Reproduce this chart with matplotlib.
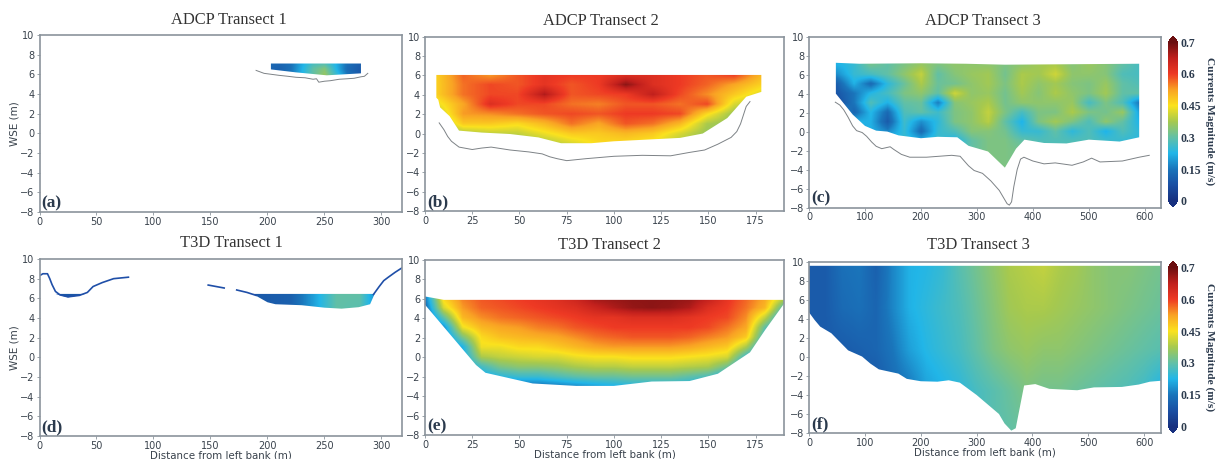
import numpy as np
import matplotlib
matplotlib.use("Agg")
import matplotlib.pyplot as plt
from matplotlib.colors import LinearSegmentedColormap, FuncNorm
from matplotlib.cm import ScalarMappable
from matplotlib.patches import Polygon

W, H = 1220, 459
SERIF = "Liberation Serif"
INK = "#39424c"
NAVY = "#2b3a4d"
SPINE = "#8b949c"

# colour scale: labelled values sit evenly along the bar
cbar_values = [0, 0.15, 0.3, 0.45, 0.6, 0.7]
cbar_labels = ["0", "0.15", "0.3", "0.45", "0.6", "0.7"]
cbar_even = [0, 0.2, 0.4, 0.6, 0.8, 1.0]
cmap_nodes = [(0.00, "#17307f"), (0.10, "#1a4fa3"), (0.20, "#1a75bb"), (0.30, "#22b6e8"),
              (0.40, "#62c0a6"), (0.50, "#a6c94f"), (0.60, "#fbe21e"), (0.70, "#f9a324"),
              (0.80, "#ee3a24"), (0.90, "#c1201d"), (1.00, "#6b0f10")]

# panel (a)
a_x = [200, 210, 220, 230, 240, 250, 260, 270, 280, 290]
a_y = [7.1, 6.5, 5.9]
a_v = [[.13, .12, .14, .21, .27, .28, .22, .14, .11, .11],
       [.12, .11, .14, .22, .30, .34, .23, .13, .10, .10],
       [.12, .12, .15, .22, .30, .36, .26, .15, .10, .10]]
a_water = [[(203, 7.1), (282, 7.1), (282, 6.1), (252, 5.9), (225, 6.2), (203, 6.5)]]
a_bed_x = [190, 197, 210, 218, 225, 233, 240, 243, 245, 250, 255, 263, 270, 276, 282, 285, 288]
a_bed_y = [6.4, 6.1, 5.9, 5.8, 5.7, 5.65, 5.5, 5.55, 5.2, 5.3, 5.35, 5.5, 5.55, 5.6, 5.75, 5.8, 6.1]

# panel (b)
b_x = [6, 20.33, 34.67, 49, 63.33, 77.67, 92, 106.33, 120.67, 135, 149.33, 163.67, 178]
b_y = [6, 5, 4, 3, 2, 1, 0, -1]
b_v = [[.47, .57, .53, .58, .61, .60, .60, .62, .62, .60, .58, .60, .50],
       [.47, .56, .59, .58, .61, .58, .60, .68, .62, .60, .57, .52, .47],
       [.47, .56, .59, .59, .66, .58, .59, .60, .65, .59, .54, .48, .42],
       [.43, .52, .62, .59, .59, .56, .55, .58, .58, .56, .59, .42, .37],
       [.38, .53, .54, .56, .58, .59, .58, .60, .60, .59, .46, .36, .35],
       [.35, .48, .48, .46, .50, .56, .52, .58, .56, .50, .38, .35, .35],
       [.34, .38, .40, .40, .44, .48, .48, .50, .48, .42, .36, .35, .35],
       [.30, .34, .36, .36, .38, .42, .46, .46, .44, .38, .36, .35, .35]]
b_water = [[(6, 6.05), (178, 6.05), (178, 4.3), (170, 3.8), (160, 1.6), (147, 0), (135, -.45),
            (125, -.55), (100, -.8), (88, -1), (72, -1), (60, -.4), (45, -.05), (30, .1),
            (18, .3), (13, 1.8), (8, 2.7), (7, 3.5), (6, 3.7)]]
b_bed_x = [7.5, 10, 12, 14, 18, 25, 30, 35, 45, 55, 62, 66, 70, 75, 85, 100, 115, 130, 140, 148, 155, 158, 162, 165, 167, 170, 172]
b_bed_y = [1.1, .4, -.3, -.8, -1.4, -1.65, -1.5, -1.4, -1.7, -1.9, -2.1, -2.4, -2.6, -2.8, -2.6, -2.35, -2.25, -2.3, -1.95,
           -1.7, -1.1, -.8, -.4, .2, 1, 2.8, 3.3]

# panel (c)
c_x = [50, 80, 110, 140, 170, 200, 230, 260, 290, 320, 350, 380, 410, 440, 470, 500, 530, 560, 590]
c_y = [7, 6, 5, 4, 3, 2, 1, 0, -1, -2, -3, -4]
c_v = [[.22, .25, .32, .30, .33, .36, .33, .35, .35, .35, .33, .35, .37, .38, .34, .36, .34, .30, .27],
       [.18, .25, .27, .30, .35, .40, .30, .34, .36, .37, .32, .38, .37, .41, .35, .35, .34, .28, .27],
       [.11, .22, .13, .24, .31, .38, .31, .32, .35, .37, .33, .38, .35, .37, .34, .33, .36, .30, .28],
       [.09, .15, .23, .27, .33, .35, .30, .41, .35, .36, .32, .37, .34, .38, .35, .33, .37, .30, .30],
       [.07, .15, .28, .22, .30, .31, .16, .34, .36, .38, .32, .35, .35, .35, .36, .27, .33, .28, .15],
       [.22, .12, .23, .13, .28, .30, .26, .33, .35, .40, .33, .27, .33, .33, .38, .33, .32, .36, .20],
       [.22, .22, .22, .10, .26, .18, .24, .33, .35, .39, .30, .22, .33, .37, .33, .28, .35, .30, .22],
       [.20, .20, .22, .17, .25, .13, .25, .28, .34, .34, .32, .25, .25, .30, .24, .28, .22, .28, .24],
       [.20, .20, .22, .24, .25, .22, .26, .22, .30, .33, .33, .30, .28, .28, .28, .28, .26, .25, .24],
       [.20, .20, .22, .24, .25, .25, .26, .26, .30, .33, .33, .32, .28, .28, .28, .28, .26, .25, .24],
       [.20, .20, .22, .24, .25, .25, .26, .26, .30, .33, .33, .32, .28, .28, .28, .28, .26, .25, .24],
       [.20, .20, .22, .24, .25, .25, .26, .26, .30, .33, .33, .32, .28, .28, .28, .28, .26, .25, .24]]
c_water = [[(48, 7.25), (90, 7.15), (200, 7.2), (280, 7.15), (350, 7.05), (590, 7.15), (590, -.6),
            (555, -1.05), (500, -.85), (460, -1.25), (420, -1.2), (385, -.85), (370, -1.8), (350, -3.8),
            (320, -2.1), (285, -1.5), (265, -.6), (230, -.55), (200, -.7), (160, -.4), (140, 0),
            (120, .1), (100, .6), (78, 1.8), (48, 4)]]
c_bed_x = [47, 55, 62, 70, 78, 85, 95, 103, 112, 120, 130, 145, 152, 165, 180, 210, 255, 270, 285, 295, 310, 325, 340, 348, 354,
           358, 362, 366, 372, 378, 384, 400, 420, 440, 470, 490, 505, 520, 560, 590, 608]
c_bed_y = [3.1, 2.8, 2.3, 1.5, .6, .1, -.1, -.5, -1.1, -1.55, -1.8, -1.6, -1.9, -2.4, -2.7, -2.7, -2.5, -2.6, -3.6, -4.1, -4.4,
           -5.2, -6.2, -7, -7.6, -7.75, -7.4, -5.8, -4, -2.9, -2.7, -3.1, -3.4, -3.3, -3.55, -3.2, -2.8, -3.2, -3.1, -2.7, -2.5]

# panel (d)
d_x = [0, 20, 40, 60, 80, 100, 120, 140, 160, 180, 200, 220, 240, 260, 280, 300, 320]
d_y = [6.5, 5]
d_v = [[.09, .09, .09, .09, .09, .09, .09, .09, .09, .09, .10, .11, .20, .30, .30, .12, .10],
       [.09, .09, .09, .09, .09, .09, .09, .09, .09, .09, .10, .11, .20, .30, .29, .14, .10]]
d_bank_x = [0, 3, 7, 9, 11, 14, 18, 25, 35, 42, 47, 55, 65, 78]
d_bank_y = [8.3, 8.5, 8.5, 8, 7.4, 6.7, 6.35, 6.15, 6.3, 6.6, 7.2, 7.6, 8, 8.15]
d_mid_x = [148, 162]
d_mid_y = [7.35, 7.05]
d_left_edge_x = [173, 182, 190]
d_left_edge_y = [6.85, 6.6, 6.3]
d_right_edge_x = [293, 298, 302, 306, 312, 318]
d_right_edge_y = [6.4, 7.2, 7.8, 8.15, 8.65, 9.1]
d_water = [[(14, 6.45), (40, 6.45), (35, 6.3), (25, 6.1), (20, 6.25)],
           [(187, 6.45), (294, 6.45), (290, 5.4), (280, 5.1), (265, 4.95), (250, 5.05), (230, 5.3), (207, 5.4), (200, 5.6)]]

# panel (e)
e_x = list(range(0, 200, 10))
e_y = [6, 5, 4, 3, 2, 1, 0, -1, -2, -3]
e_v = [[.15, .47, .55, .58, .59, .60, .61, .62, .64, .67, .675, .68, .68, .68, .675, .65, .61, .57, .52, .40],
       [.12, .42, .53, .57, .58, .59, .60, .61, .62, .64, .66, .675, .68, .675, .66, .62, .60, .56, .50, .28],
       [.10, .30, .50, .54, .56, .57, .58, .59, .60, .61, .61, .62, .62, .62, .61, .60, .59, .54, .40, .20],
       [.10, .18, .44, .50, .52, .53, .55, .56, .58, .59, .60, .60, .60, .60, .60, .59, .56, .52, .30, .20],
       [.10, .15, .33, .46, .49, .50, .51, .52, .54, .56, .57, .58, .58, .58, .57, .55, .53, .48, .25, .20],
       [.10, .15, .22, .44, .44, .46, .46, .48, .50, .52, .53, .53, .53, .53, .52, .50, .48, .38, .20, .20],
       [.10, .15, .20, .38, .40, .41, .42, .42, .44, .45, .45, .46, .46, .46, .45, .44, .42, .26, .20, .20],
       [.10, .15, .20, .27, .33, .35, .35, .36, .38, .39, .39, .40, .40, .40, .39, .38, .32, .20, .20, .20],
       [.10, .15, .20, .20, .24, .26, .26, .28, .30, .31, .31, .32, .32, .32, .30, .28, .22, .20, .20, .20],
       [.10, .15, .20, .20, .15, .14, .14, .16, .18, .20, .22, .23, .23, .23, .22, .20, .20, .20, .20, .20]]
e_water = [[(0, 6.25), (10, 5.9), (190, 5.9), (190, 5.5), (180, 2.8), (172, .5), (155, -1.7), (140, -2.45),
            (120, -2.5), (100, -2.95), (80, -2.95), (57, -2.7), (32, -1.6), (27, -.8), (0, 5.4)]]

# panel (f)
f_x = list(range(0, 660, 30))
f_y = [9.6, 5, 0, -3, -8]
f_v = [[.10, .10, .14, .15, .11, .17, .22, .23, .25, .29, .32, .35, .38, .39, .40, .38, .37, .35, .34, .34, .33, .32],
       [.10, .10, .13, .14, .12, .17, .22, .24, .26, .28, .31, .34, .37, .38, .38, .37, .36, .35, .34, .33, .32, .31],
       [.10, .10, .10, .11, .12, .15, .20, .23, .25, .27, .30, .33, .35, .36, .35, .35, .34, .33, .32, .31, .30, .29],
       [.09, .09, .09, .09, .09, .13, .15, .20, .22, .24, .27, .29, .31, .33, .32, .32, .31, .30, .29, .28, .26, .22],
       [.09, .09, .09, .09, .09, .13, .15, .20, .22, .24, .27, .29, .30, .31, .32, .32, .31, .30, .29, .28, .26, .22]]
f_water = [[(0, 9.6), (630, 9.6), (630, -2.5), (610, -2.6), (590, -2.9), (560, -3.15), (510, -3.2), (480, -3.5),
            (430, -3.35), (405, -2.85), (385, -3), (370, -7.5), (362, -7.75), (350, -7), (340, -6), (320, -5),
            (300, -4), (270, -2.7), (250, -2.45), (230, -2.6), (200, -2.55), (175, -2.3), (160, -1.75),
            (125, -1.3), (110, -.7), (95, .05), (70, .7), (60, 1.3), (40, 2.5), (20, 3.2), (10, 3.9), (0, 4.7)]]

titles = ["ADCP Transect 1", "ADCP Transect 2", "ADCP Transect 3", "T3D Transect 1", "T3D Transect 2", "T3D Transect 3"]
letters = ["(a)", "(b)", "(c)", "(d)", "(e)", "(f)"]
y_ticks = list(range(-8, 12, 2))
x_ticks = [list(range(0, 350, 50)), list(range(0, 200, 25)), list(range(0, 700, 100))]
x_limits = [318, 190, 629, 318, 190, 630]

# layout in reference pixels: left, right, top, bottom
boxes = [(39.5, 402, 35, 212), (425, 784, 36.7, 211), (809, 1161, 36.7, 207.5),
         (39.5, 402, 259, 436), (425, 784, 260, 435), (809, 1161, 262, 433)]
title_px = [(229, 20), (601, 21), (983, 21), (231, 243), (609, 245), (978, 245)]
cbar_px = [(1168, 1178, 36, 207), (1168, 1178, 261, 433)]

cmap = LinearSegmentedColormap.from_list("currents", cmap_nodes, N=512)
cmap.set_under("#17307f")
cmap.set_over("#6b0f10")
norm = FuncNorm((lambda v: np.interp(v, cbar_values, cbar_even),
                 lambda p: np.interp(p, cbar_even, cbar_values)), vmin=0, vmax=0.7)

fig = plt.figure(figsize=(W / 100, H / 100), dpi=100)


def add_axes(box):
    l, r, t, b = box
    return fig.add_axes([l / W, 1 - b / H, (r - l) / W, (b - t) / H])


def field(ax, xs, ys, values, waters):
    xs, ys = np.asarray(xs, float), np.asarray(ys, float)
    dx = (xs[-1] - xs[0]) / (len(xs) - 1) / 2
    dy = (ys[0] - ys[-1]) / (len(ys) - 1) / 2
    for water in waters:
        im = ax.imshow(values, origin="upper", aspect="auto", cmap=cmap, norm=norm,
                       interpolation="bilinear", interpolation_stage="data",
                       extent=(xs[0] - dx, xs[-1] + dx, ys[-1] - dy, ys[0] + dy))
        im.set_clip_path(Polygon(water, closed=True, transform=ax.transData))


axes = [add_axes(b) for b in boxes]
field(axes[0], a_x, a_y, a_v, a_water)
field(axes[1], b_x, b_y, b_v, b_water)
field(axes[2], c_x, c_y, c_v, c_water)
field(axes[3], d_x, d_y, d_v, d_water)
field(axes[4], e_x, e_y, e_v, e_water)
field(axes[5], f_x, f_y, f_v, f_water)

bed_style = dict(color="#7d8286", lw=0.7)
axes[0].plot(a_bed_x, a_bed_y, **bed_style)
axes[1].plot(b_bed_x, b_bed_y, **bed_style)
axes[2].plot(c_bed_x, c_bed_y, **bed_style)
bank_style = dict(color="#1f4fa8", lw=1.2)
axes[3].plot(d_bank_x, d_bank_y, **bank_style)
axes[3].plot(d_mid_x, d_mid_y, **bank_style)
axes[3].plot(d_left_edge_x, d_left_edge_y, **bank_style)
axes[3].plot(d_right_edge_x, d_right_edge_y, **bank_style)

for i, ax in enumerate(axes):
    ax.set_xlim(0, x_limits[i])
    ax.set_ylim(-8, 10)
    ax.set_xticks(x_ticks[i % 3])
    ax.set_yticks(y_ticks)
    ax.tick_params(labelsize=7, colors=INK, length=2, width=0.6, pad=1.5, color=SPINE)
    for s in ax.spines.values():
        s.set_color(SPINE)
        s.set_linewidth(1.2)
    l, r, t, b = boxes[i]
    tx, ty = title_px[i]
    ax.set_title(titles[i], family=SERIF, fontsize=11.9, color="#333333",
                 x=(tx - l) / (r - l), y=(b - ty) / (b - t), va="center", pad=0)
    ax.text(0.006, 0.005, letters[i], transform=ax.transAxes, family=SERIF, fontweight="bold",
            fontsize=12.5, color=NAVY, ha="left", va="bottom")
    if i >= 3:
        ax.set_xlabel("Distance from left bank (m)", fontsize=7.4, color=INK, labelpad=0)
    if i % 3 == 0:
        ax.set_ylabel("WSE (m)", fontsize=7.5, color=INK, labelpad=0.5)

for box in cbar_px:
    cax = add_axes(box)
    sm = ScalarMappable(norm=norm, cmap=cmap)
    cb = fig.colorbar(sm, cax=cax, extend="both", extendfrac=0.04, ticks=cbar_values)
    cb.ax.set_yticklabels(cbar_labels, family=SERIF, fontweight="bold", fontsize=8.5, color=NAVY)
    cb.ax.tick_params(length=0, pad=2)
    cb.ax.minorticks_off()
    cb.outline.set_visible(False)
    cb.set_label("Currents Magnitude (m/s)", family=SERIF, fontweight="bold", fontsize=8.2,
                 color=NAVY, rotation=270, labelpad=0, va="center", ha="center")
    cb.ax.yaxis.set_label_coords(4.2, 0.5)

fig.savefig("out.png", dpi=100)
